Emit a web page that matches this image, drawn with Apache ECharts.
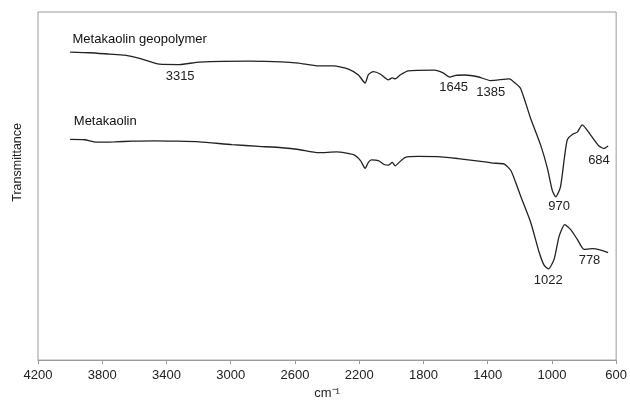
<!DOCTYPE html>
<html>
<head>
<meta charset="utf-8">
<script src="https://cdn.jsdelivr.net/npm/echarts@6/dist/echarts.min.js"></script>
<style>html,body{margin:0;padding:0;background:#fff}#c{width:630px;height:405px}</style>
</head>
<body>
<div id="c"></div>
<script>
// x: wavenumber (cm-1), y: transmittance (arbitrary units)
var geoWn = [4000,3878,3754,3661,3568,3444,3320,3196,2886,2682,2577,2453,2360,2267,2205,2163,2143,2112,2069,2019,1994,1976,1945,1895,1730,1678,1637,1598,1544,1461,1381,1265,1232,1195,1133,1071,1028,997,976,947,922,904,873,842,811,761,707,676,650];
var geoT  = [88.5,88.3,87.9,87.6,86.7,85.0,84.9,85.6,85.9,85.7,85.3,84.5,84.5,83.6,81.9,79.6,82.0,82.9,82.2,80.5,81.1,80.8,81.9,83.1,83.3,82.5,81.3,81.8,81.9,81.4,80.3,80.8,79.7,78.0,69.5,61.9,55.1,48.6,46.9,49.7,58.2,63.3,64.8,65.5,67.6,64.8,61.5,60.8,61.5];
var mkWn = [4000,3909,3836,3723,3611,3475,3341,3196,2992,2824,2682,2577,2453,2341,2236,2192,2163,2143,2124,2081,2044,2019,1994,1976,1951,1915,1833,1691,1585,1482,1368,1296,1255,1226,1193,1131,1079,1048,1021,986,955,920,883,842,800,749,697,650];
var mkT  = [63.4,63.3,62.6,62.7,62.9,63.0,62.9,62.7,61.9,61.4,61.0,60.5,59.6,59.8,59.0,57.3,55.1,56.8,57.5,57.3,56.2,56.0,56.8,55.8,56.8,58.2,58.5,58.4,57.9,57.3,56.6,56.3,54.4,51.1,46.9,39.4,30.9,27.2,26.2,29.0,35.6,38.9,37.5,34.7,31.8,32.0,31.6,30.9];
var seriesNames = ['Metakaolin geopolymer','Metakaolin'];
// peak annotations: [text, wavenumber, transmittance]
var geoPeaks = [['3315',3315,81.4],['1645',1612,78.2],['1385',1381,76.8],['970',955,44.1],['684',707,57.3]];
var mkPeaks  = [['1022',1023,22.9],['778',766,28.5]];
var nameAnchors = [[3985,92.1],[3977,68.7]];
var xTicks = [600,4200,400];

function pairs(a,b){return a.map(function(v,i){return [v,b[i]];});}
function peakPts(p){return p.map(function(q){return {name:q[0],coord:[q[1],q[2]]};});}

var font = 'Liberation Sans, Arial, sans-serif';
var chart = echarts.init(document.getElementById('c'), null, {renderer:'canvas'});
function mkSeries(name, data, peaks, anchor){
  var pts = peakPts(peaks);
  pts.push({name:name, coord:anchor, label:{align:'left', fontSize:13, color:'#111', fontWeight:500}});
  return {
    type:'line', name:name, data:data, showSymbol:false, symbol:'none', smooth:0.2,
    lineStyle:{color:'#222', width:1.3},
    animation:false,
    markPoint:{symbol:'circle', symbolSize:0, silent:true, animation:false,
      label:{show:true, position:'inside', formatter:'{b}', color:'#222', fontSize:13, fontFamily:font},
      data:pts}
  };
}
chart.setOption({
  animation:false,
  grid:{left:38, top:12, right:11, bottom:39, show:true, borderColor:'#9a9a9a', borderWidth:1, containLabel:false},
  xAxis:{type:'value', inverse:true, min:xTicks[0], max:xTicks[1], interval:xTicks[2],
    name:'cm\u207B\u00B9', nameLocation:'middle', nameGap:26,
    nameTextStyle:{color:'#222', fontSize:13, fontFamily:font},
    axisLine:{show:true, lineStyle:{color:'#9a9a9a'}},
    axisTick:{show:true, length:4, lineStyle:{color:'#9a9a9a'}},
    axisLabel:{color:'#222', fontSize:13, fontFamily:font, margin:9, formatter:function(v){return String(v);}},
    splitLine:{show:false}},
  yAxis:{type:'value', min:0, max:100, show:true,
    axisLine:{show:false}, axisTick:{show:false}, axisLabel:{show:false}, splitLine:{show:false}},
  graphic:[{type:'text', left:11, top:123, rotation:Math.PI/2,
    style:{text:'Transmittance', fill:'#222', font:'12.5px '+font}}],
  series:[mkSeries(seriesNames[0], pairs(geoWn,geoT), geoPeaks, nameAnchors[0]),
          mkSeries(seriesNames[1], pairs(mkWn,mkT), mkPeaks, nameAnchors[1])]
});
</script>
</body>
</html>
